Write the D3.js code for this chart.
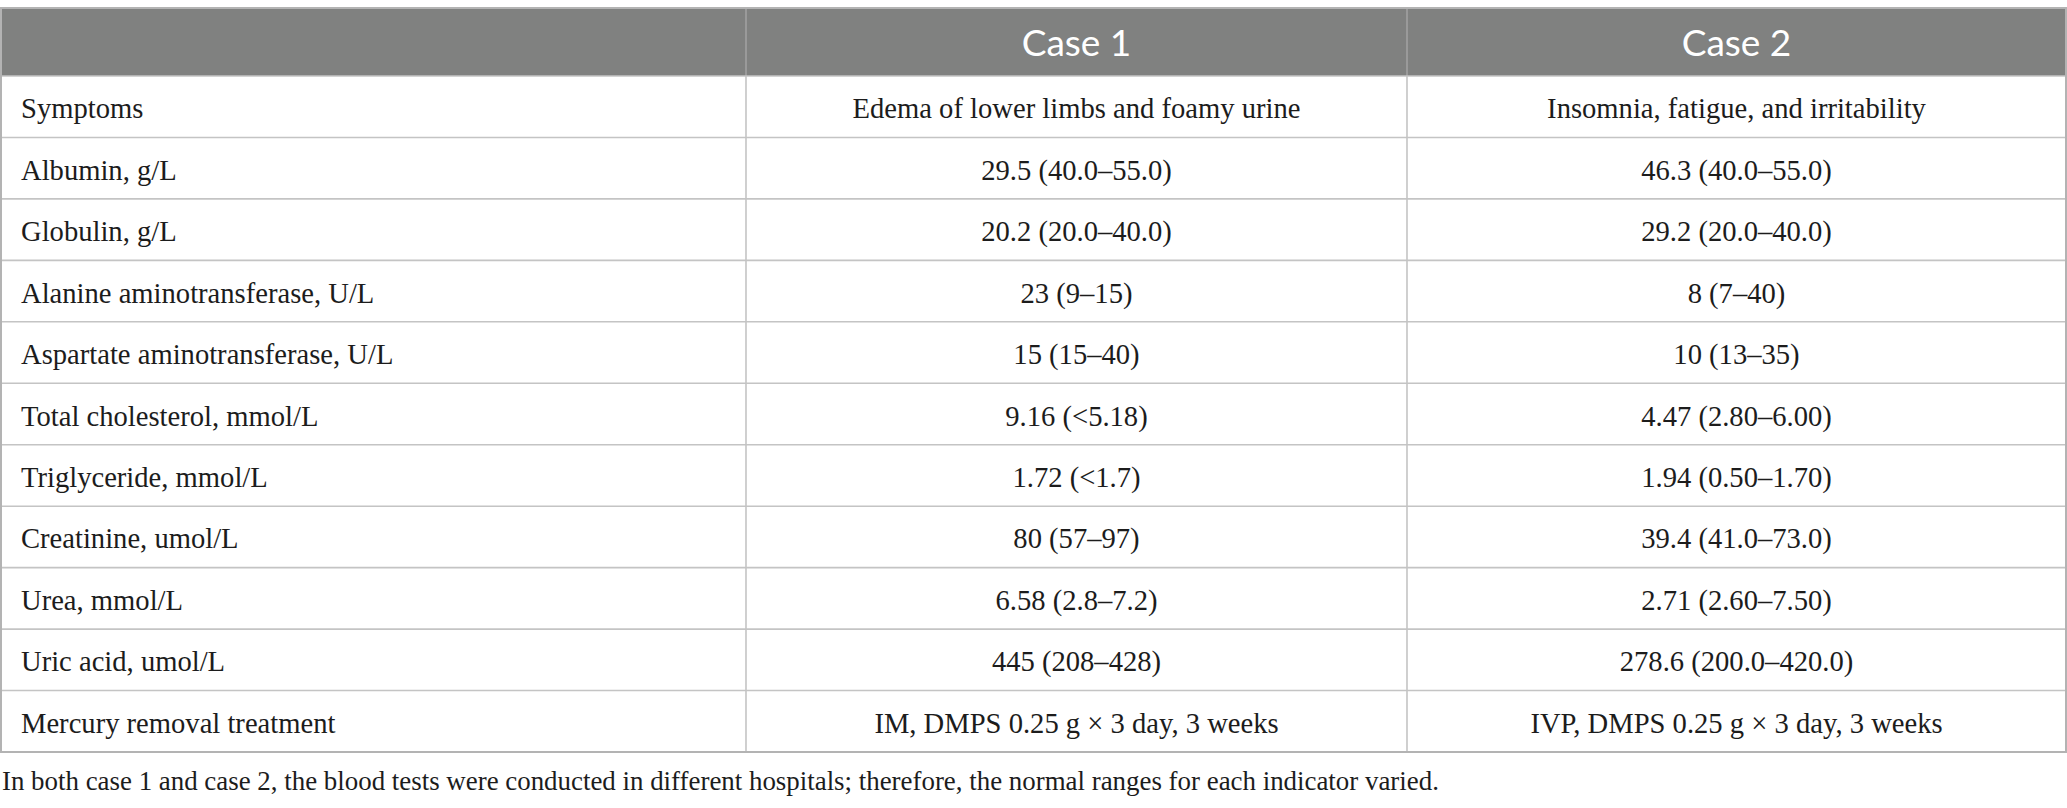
<!DOCTYPE html>
<html><head><meta charset="utf-8">
<script src="https://cdn.jsdelivr.net/npm/d3@7/dist/d3.min.js"></script>
<style>html,body{margin:0;padding:0;background:#fff;}svg{display:block;}</style>
</head><body>
<script>
const headers = ["", "Case 1", "Case 2"];
const rowLabels = ["Symptoms","Albumin, g/L","Globulin, g/L","Alanine aminotransferase, U/L","Aspartate aminotransferase, U/L","Total cholesterol, mmol/L","Triglyceride, mmol/L","Creatinine, umol/L","Urea, mmol/L","Uric acid, umol/L","Mercury removal treatment"];
const case1 = ["Edema of lower limbs and foamy urine","29.5 (40.0–55.0)","20.2 (20.0–40.0)","23 (9–15)","15 (15–40)","9.16 (<5.18)","1.72 (<1.7)","80 (57–97)","6.58 (2.8–7.2)","445 (208–428)","IM, DMPS 0.25 g × 3 day, 3 weeks"];
const case2 = ["Insomnia, fatigue, and irritability","46.3 (40.0–55.0)","29.2 (20.0–40.0)","8 (7–40)","10 (13–35)","4.47 (2.80–6.00)","1.94 (0.50–1.70)","39.4 (41.0–73.0)","2.71 (2.60–7.50)","278.6 (200.0–420.0)","IVP, DMPS 0.25 g × 3 day, 3 weeks"];
const footnote = "In both case 1 and case 2, the blood tests were conducted in different hospitals; therefore, the normal ranges for each indicator varied.";

(function () {
const W = 2067, H = 808;
const tLeft = 1, tRight = 2066, tTop = 8, headH = 68, tBottom = 752;
const colEdges = [tLeft, 746, 1407, tRight];

const svg = d3.select("body").append("svg").attr("width", W).attr("height", H);

const y = d3.scaleBand().domain(d3.range(rowLabels.length)).range([tTop + headH, tBottom]);
const serif = "'Liberation Serif', 'Times New Roman', serif";
const fs = 28.6;

// header
svg.append("rect").attr("x", tLeft).attr("y", tTop).attr("width", tRight - tLeft).attr("height", headH).attr("fill", "#808180");
svg.selectAll(".hdiv").data([1, 2]).join("line")
  .attr("x1", d => colEdges[d]).attr("x2", d => colEdges[d])
  .attr("y1", tTop).attr("y2", tTop + headH)
  .attr("stroke", "#a3a3a3").attr("stroke-width", 1.5);
svg.selectAll(".htxt").data(headers).join("text")
  .attr("x", (d, i) => (colEdges[i] + colEdges[i + 1]) / 2)
  .attr("y", tTop + headH / 2 + 14)
  .attr("text-anchor", "middle")
  .attr("fill", "#fff")
  .attr("font-family", "Lato, 'Open Sans', sans-serif")
  .attr("font-weight", 400)
  .attr("font-size", 37)
  .text(d => d);

// row lines
svg.selectAll(".rline").data(d3.range(1, rowLabels.length)).join("line")
  .attr("x1", tLeft).attr("x2", tRight)
  .attr("y1", d => y(d)).attr("y2", d => y(d))
  .attr("stroke", "#c4c4c4").attr("stroke-width", 1.6);
svg.append("line").attr("x1", tLeft).attr("x2", tRight).attr("y1", tTop + headH).attr("y2", tTop + headH)
  .attr("stroke", "#c4c4c4").attr("stroke-width", 1.6);
svg.selectAll(".cline").data([1, 2]).join("line")
  .attr("x1", d => colEdges[d]).attr("x2", d => colEdges[d])
  .attr("y1", tTop + headH).attr("y2", tBottom)
  .attr("stroke", "#c4c4c4").attr("stroke-width", 1.6);
svg.append("rect").attr("x", tLeft).attr("y", tTop).attr("width", tRight - tLeft).attr("height", tBottom - tTop)
  .attr("fill", "none").attr("stroke", "#b3b3b3").attr("stroke-width", 2);

const g = svg.append("g").attr("font-family", serif).attr("font-size", fs).attr("fill", "#1c1c1c");
const rows = g.selectAll(".row").data(rowLabels.map((l, i) => ({i, cells: [l, case1[i], case2[i]]}))).join("g");
rows.each(function(r) {
  d3.select(this).selectAll("text").data(r.cells).join("text")
    .attr("x", (d, c) => c === 0 ? 21 : (colEdges[c] + colEdges[c + 1]) / 2)
    .attr("y", y(r.i) + y.bandwidth() / 2 + 11.5)
    .attr("text-anchor", (d, c) => c === 0 ? "start" : "middle")
    .text(d => d);
});

svg.append("text").attr("x", 2).attr("y", 790)
  .attr("font-family", serif).attr("font-size", 26.9).attr("fill", "#1c1c1c")
  .text(footnote);
})();
</script>
</body></html>
